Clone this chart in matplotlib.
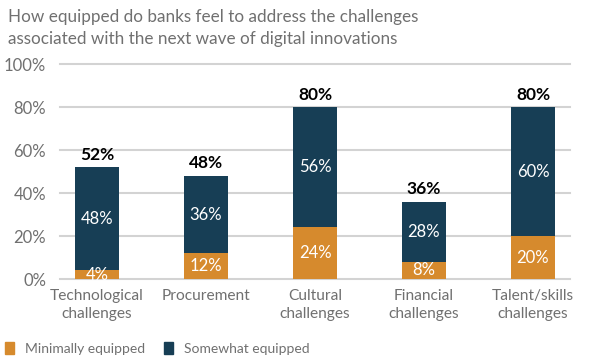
import matplotlib
matplotlib.use("Agg")
import matplotlib.pyplot as plt
from matplotlib.patches import Patch
import numpy as np

plt.rcParams['font.family'] = ['Lato', 'DejaVu Sans']

categories = ["Technological\nchallenges", "Procurement", "Cultural\nchallenges",
              "Financial\nchallenges", "Talent/skills\nchallenges"]
minimally = [4, 12, 24, 8, 20]
somewhat = [48, 36, 56, 28, 60]
totals = [m + s for m, s in zip(minimally, somewhat)]
yticks = [0, 20, 40, 60, 80, 100]

orange = "#D68A2D"
navy = "#173E55"
gray = "#707070"

fig = plt.figure(figsize=(6, 3.6), dpi=100)
ax = fig.add_axes([0.1, 0.225, 0.85, 0.597])

x = np.arange(len(categories))
w = 0.4
ax.bar(x, minimally, width=w, color=orange, zorder=3)
ax.bar(x, somewhat, width=w, bottom=minimally, color=navy, zorder=3)

for xi, m, s, t in zip(x, minimally, somewhat, totals):
    ax.text(xi, m / 2, f"{m}%", ha='center', va='center', color='white', fontsize=12, zorder=4)
    ax.text(xi, m + s / 2, f"{s}%", ha='center', va='center', color='white', fontsize=12, zorder=4)
    ax.annotate(f"{t}%", (xi, t), xytext=(0, 9), textcoords='offset points',
                ha='center', va='center', color='black', fontsize=12.5, fontweight='bold')

ax.set_ylim(0, 100)
ax.set_xlim(-0.34, 4.34)
ax.set_yticks(yticks)
ax.set_yticklabels([f"{v}%" for v in yticks])
ax.set_xticks(x)
ax.set_xticklabels(categories, linespacing=1.4)
ax.tick_params(axis='both', length=0, colors=gray)
ax.tick_params(axis='y', pad=10, labelsize=12)
ax.tick_params(axis='x', pad=7, labelsize=11.2)
for sp in ax.spines.values():
    sp.set_visible(False)
ax.yaxis.grid(True, color="#D3D3D3", linewidth=1.5, zorder=0)
for gl in ax.get_ygridlines():
    gl.set_clip_on(False)
ax.set_axisbelow(True)

fig.text(0.013, 0.975, "How equipped do banks feel to address the challenges\nassociated with the next wave of digital innovations",
         ha='left', va='top', fontsize=12.3, color=gray, linespacing=1.45)

handles = [Patch(color=orange, label="Minimally equipped"),
           Patch(color=navy, label="Somewhat equipped")]
fig.legend(handles=handles, loc='lower left', bbox_to_anchor=(-0.012, -0.02), ncol=2, frameon=False,
           fontsize=10, labelcolor=gray, handlelength=0.6, handleheight=0.9,
           handletextpad=0.8, columnspacing=1.4)

fig.savefig("out.png", dpi=100)
